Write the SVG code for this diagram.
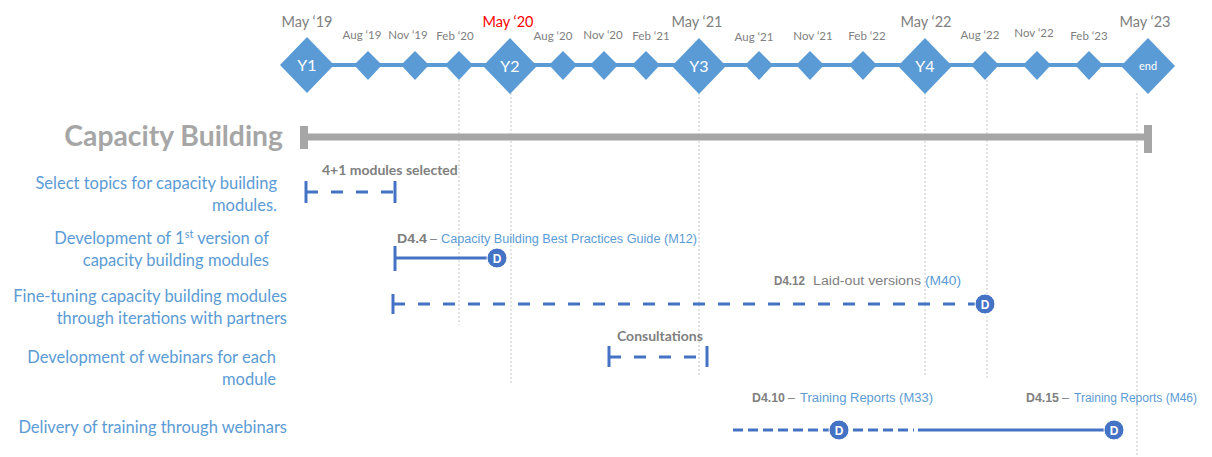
<svg xmlns="http://www.w3.org/2000/svg" width="1212" height="457" viewBox="0 0 1212 457">
<defs>
<style>
.bg{fill:#ffffff}
.tl{stroke:#5b9bd5;stroke-width:4;fill:none}
.dm{fill:#5b9bd5}
.dt{fill:#ffffff;font-family:Lato,"Open Sans",sans-serif;font-size:16px;text-anchor:middle}
.mon{fill:#808080;font-family:Lato,"Open Sans",sans-serif;font-size:11.5px;text-anchor:middle}
.yr{fill:#808080;font-family:Lato,"Open Sans",sans-serif;font-size:14.5px;text-anchor:middle}
.grid{stroke:#c8c8c8;stroke-width:1;stroke-dasharray:2 2;fill:none}
.title{fill:#a6a6a6;font-family:Lato,"Open Sans",sans-serif;font-size:28.3px;font-weight:bold;text-anchor:end}
.gbar{stroke:#a6a6a6;stroke-width:7;fill:none}
.gcap{fill:#a6a6a6}
.lab{fill:#5b9bd5;font-family:Lato,"Open Sans",sans-serif;font-size:16.5px;text-anchor:end}
.bar{stroke:#4472c4;stroke-width:3;fill:none}
.dash{stroke-dasharray:12 13}
.dash2{stroke-dasharray:10 5}
.note{fill:#808080;font-family:Lato,"Open Sans",sans-serif;font-size:14px;font-weight:bold}
.del{font-family:"Liberation Sans",Arial,sans-serif;font-size:12.5px;fill:#5b9bd5}
.code{fill:#808080;font-weight:bold}
.gr{fill:#808080}
.dc{fill:#4472c4;stroke:#ffffff;stroke-width:1}
.dl{fill:#ffffff;font-family:"Liberation Sans",Arial,sans-serif;font-size:12px;font-weight:bold;text-anchor:middle}
</style>
</defs>
<rect class="bg" x="0" y="0" width="1212" height="457"/>

<g id="grid-lines">
<line class="grid" x1="459" y1="80" x2="459" y2="325"/>
<line class="grid" x1="511" y1="93" x2="511" y2="384"/>
<line class="grid" x1="699" y1="93" x2="699" y2="376"/>
<line class="grid" x1="925" y1="93" x2="925" y2="376"/>
<line class="grid" x1="987" y1="80" x2="987" y2="378"/>
<line class="grid" x1="1137" y1="93" x2="1137" y2="455"/>
</g>

<g id="timeline">
<line class="tl" x1="285" y1="65" x2="1170" y2="65"/>
<text class="yr" x="307" y="27">May ‘19</text>
<text class="yr" x="508" y="27" style="fill:#ff0000">May ‘20</text>
<text class="yr" x="697" y="27">May ‘21</text>
<text class="yr" x="926" y="27">May ‘22</text>
<text class="yr" x="1145" y="27">May ‘23</text>
<text class="mon" x="362" y="39">Aug ‘19</text>
<text class="mon" x="408" y="39">Nov ‘19</text>
<text class="mon" x="455" y="40">Feb ‘20</text>
<text class="mon" x="553" y="40">Aug ‘20</text>
<text class="mon" x="603" y="39">Nov ‘20</text>
<text class="mon" x="651" y="40">Feb ‘21</text>
<text class="mon" x="754" y="41">Aug ‘21</text>
<text class="mon" x="813" y="40">Nov ‘21</text>
<text class="mon" x="867" y="40">Feb ‘22</text>
<text class="mon" x="980" y="39">Aug ‘22</text>
<text class="mon" x="1034" y="37">Nov ‘22</text>
<text class="mon" x="1089" y="40">Feb ‘23</text>
</g>

<g id="node-y1"><polygon class="dm" points="307,37 334,65 307,93 280,65"/><text class="dt" x="307" y="71">Y1</text></g>
<g id="node-aug19"><polygon class="dm" points="368,51 382,65 368,80 354,65"/></g>
<g id="node-nov19"><polygon class="dm" points="415,51 429,65 415,80 401,65"/></g>
<g id="node-feb20"><polygon class="dm" points="459,51 473,65 459,80 445,65"/></g>
<g id="node-y2"><polygon class="dm" points="510,38 537,66 510,94 483,66"/><text class="dt" x="510" y="72">Y2</text></g>
<g id="node-aug20"><polygon class="dm" points="563,51 577,65 563,80 549,65"/></g>
<g id="node-nov20"><polygon class="dm" points="604,51 618,65 604,80 590,65"/></g>
<g id="node-feb21"><polygon class="dm" points="646,51 660,65 646,80 632,65"/></g>
<g id="node-y3"><polygon class="dm" points="699,38 726,66 699,94 672,66"/><text class="dt" x="699" y="72">Y3</text></g>
<g id="node-aug21"><polygon class="dm" points="759,51 773,65 759,80 745,65"/></g>
<g id="node-nov21"><polygon class="dm" points="810,51 824,65 810,80 796,65"/></g>
<g id="node-feb22"><polygon class="dm" points="863,51 877,65 863,80 849,65"/></g>
<g id="node-y4"><polygon class="dm" points="925,38 952,66 925,94 898,66"/><text class="dt" x="925" y="72">Y4</text></g>
<g id="node-aug22"><polygon class="dm" points="985,51 999,65 985,80 971,65"/></g>
<g id="node-nov22"><polygon class="dm" points="1037,51 1051,65 1037,80 1023,65"/></g>
<g id="node-feb23"><polygon class="dm" points="1089,51 1103,65 1089,80 1075,65"/></g>
<g id="node-end"><polygon class="dm" points="1148,38 1175,66 1148,94 1121,66"/><text class="dt" x="1148" y="70" style="font-size:11px">end</text></g>

<g id="capacity-building">
<text class="title" x="283" y="146">Capacity Building</text>
<line class="gbar" x1="305" y1="137" x2="1147" y2="137"/>
<rect class="gcap" x="300" y="126" width="8" height="23"/>
<rect class="gcap" x="1144" y="125" width="8" height="28"/>
</g>

<g id="labels">
<text class="lab" x="277" y="189">Select topics for capacity building</text>
<text class="lab" x="277" y="211">modules.</text>
<text class="lab" x="269" y="244">Development of 1<tspan dy="-6" style="font-size:11px">st</tspan><tspan dy="6"> version of</tspan></text>
<text class="lab" x="269" y="266">capacity building modules</text>
<text class="lab" x="287" y="302">Fine-tuning capacity building modules</text>
<text class="lab" x="287" y="324">through iterations with partners</text>
<text class="lab" x="276" y="363">Development of webinars for each</text>
<text class="lab" x="276" y="385">module</text>
<text class="lab" x="287" y="433">Delivery of training through webinars</text>
</g>

<g id="connectors">
<line class="bar" x1="306" y1="181" x2="306" y2="203"/>
<line class="bar dash" x1="306" y1="192" x2="395" y2="192"/>
<line class="bar" x1="395" y1="181" x2="395" y2="203"/>

<line class="bar" x1="395" y1="246" x2="395" y2="271"/>
<line class="bar" x1="395" y1="258" x2="497" y2="258"/>

<line class="bar" x1="393" y1="294" x2="393" y2="314"/>
<line class="bar dash" x1="393" y1="304" x2="976" y2="304"/>

<line class="bar" x1="609" y1="346" x2="609" y2="367"/>
<line class="bar dash" x1="609" y1="357" x2="707" y2="357"/>
<line class="bar" x1="707" y1="346" x2="707" y2="367"/>

<line class="bar dash2" x1="733" y1="430" x2="914" y2="430"/>
<line class="bar" x1="918" y1="430" x2="1113" y2="430"/>
</g>

<g id="notes">
<text class="note" x="322" y="175">4+1 modules selected</text>
<text class="note" x="617" y="341">Consultations</text>
<text class="del code" x="397" y="243" textLength="30" lengthAdjust="spacingAndGlyphs">D4.4</text>
<text class="del gr" x="430" y="243">–</text>
<text class="del" x="441" y="243" textLength="256" lengthAdjust="spacingAndGlyphs">Capacity Building Best Practices Guide (M12)</text>
<text class="del code" x="774" y="285" textLength="31" lengthAdjust="spacingAndGlyphs">D4.12</text>
<text class="del gr" x="813" y="285" textLength="108" lengthAdjust="spacingAndGlyphs">Laid-out versions</text>
<text class="del" x="925" y="285" textLength="36" lengthAdjust="spacingAndGlyphs">(M40)</text>
<text class="del code" x="752" y="402" textLength="33" lengthAdjust="spacingAndGlyphs">D4.10</text>
<text class="del gr" x="788" y="402">–</text>
<text class="del" x="800" y="402" textLength="133" lengthAdjust="spacingAndGlyphs">Training Reports  (M33)</text>
<text class="del code" x="1026" y="402" textLength="33" lengthAdjust="spacingAndGlyphs">D4.15</text>
<text class="del gr" x="1062" y="402">–</text>
<text class="del" x="1074" y="402" textLength="123" lengthAdjust="spacingAndGlyphs">Training Reports (M46)</text>
</g>

<g id="deliverable-d44"><circle class="dc" cx="497" cy="258" r="10"/><text class="dl" x="497" y="262.5">D</text></g>
<g id="deliverable-d412"><circle class="dc" cx="985" cy="304" r="10"/><text class="dl" x="985" y="308.5">D</text></g>
<g id="deliverable-d410"><circle class="dc" cx="839" cy="430" r="10"/><text class="dl" x="839" y="434.5">D</text></g>
<g id="deliverable-d415"><circle class="dc" cx="1114" cy="430" r="10"/><text class="dl" x="1114" y="434.5">D</text></g>
</svg>
